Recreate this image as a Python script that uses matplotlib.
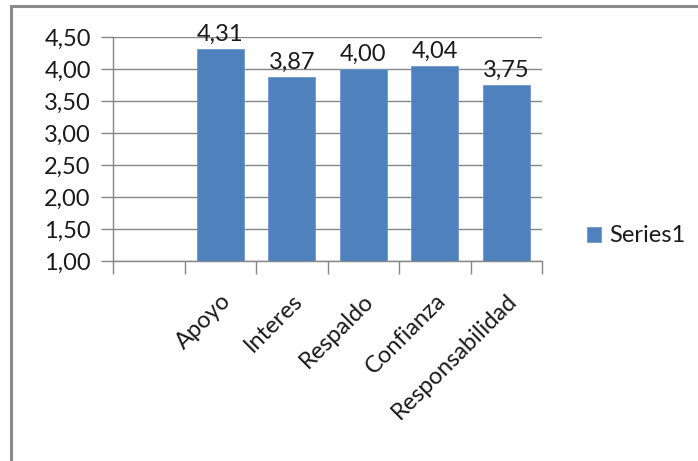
import matplotlib.pyplot as plt
from matplotlib.patches import Rectangle

# Chart data
categories = ["", "Apoyo", "Interes", "Respaldo", "Confianza", "Responsabilidad"]
values = [None, 4.31, 3.87, 4.00, 4.04, 3.75]
y_ticks = [1.0, 1.5, 2.0, 2.5, 3.0, 3.5, 4.0, 4.5]
series_name = "Series1"

bar_color = "#4F81BD"
grid_color = "#868686"
text_color = "#1a1a1a"
fs = 17

plt.rcParams['font.family'] = ['Lato', 'DejaVu Sans']

fig = plt.figure(figsize=(6.98, 4.61), dpi=100)
ax = fig.add_axes([113 / 698, 1 - 261 / 461, (542 - 113) / 698, (261 - 37) / 461])

# outer chart border (left/top visible)
fig.patches.append(Rectangle((11 / 698, -0.05), 1.0, 1 - 6 / 461 + 0.05,
                             transform=fig.transFigure, fill=False,
                             edgecolor="#8a8a8a", linewidth=2.2))

xs = [i for i, v in enumerate(values) if v is not None]
hs = [v for v in values if v is not None]
bottom = y_ticks[0]
bars = ax.bar(xs, [h - bottom for h in hs], bottom=bottom, width=0.66,
              color=bar_color, edgecolor="#6d97cc", linewidth=0.6,
              label=series_name, zorder=3)

for x, h in zip(xs, hs):
    ax.text(x, h + 0.07, f"{h:.2f}".replace(".", ","), ha="center", va="bottom",
            fontsize=fs, color=text_color)

ax.set_xlim(-0.5, len(categories) - 0.5)
ax.set_ylim(y_ticks[0], y_ticks[-1])
ax.set_yticks(y_ticks)
ax.set_yticklabels([f"{t:.2f}".replace(".", ",") for t in y_ticks],
                   fontsize=fs, color=text_color)
ax.yaxis.grid(True, color=grid_color, linewidth=1.0, zorder=0)

# category boundaries carry the tick marks; labels sit at centres
ax.set_xticks([i - 0.5 for i in range(len(categories) + 1)])
ax.set_xticklabels([])
ax.set_xticks(range(len(categories)), minor=True)
ax.set_xticklabels(categories, minor=True, rotation=45, ha="right",
                   rotation_mode="anchor", fontsize=fs, color=text_color)
ax.tick_params(axis="x", which="minor", length=0, pad=21)
ax.tick_params(axis="x", which="major", length=9, color=grid_color, width=1.0)
ax.tick_params(axis="y", length=9, color=grid_color, width=1.0, pad=7)

for side in ("top", "right"):
    ax.spines[side].set_visible(False)
for side in ("left", "bottom"):
    ax.spines[side].set_color(grid_color)
    ax.spines[side].set_linewidth(1.0)

leg = fig.legend(handles=[bars], labels=[series_name], loc="center left",
                 bbox_to_anchor=(566 / 698, 1 - 236 / 461), frameon=False,
                 fontsize=fs, handlelength=0.6, handleheight=0.6,
                 handletextpad=0.35)
for t in leg.get_texts():
    t.set_color(text_color)

fig.savefig("out.png", dpi=100)
